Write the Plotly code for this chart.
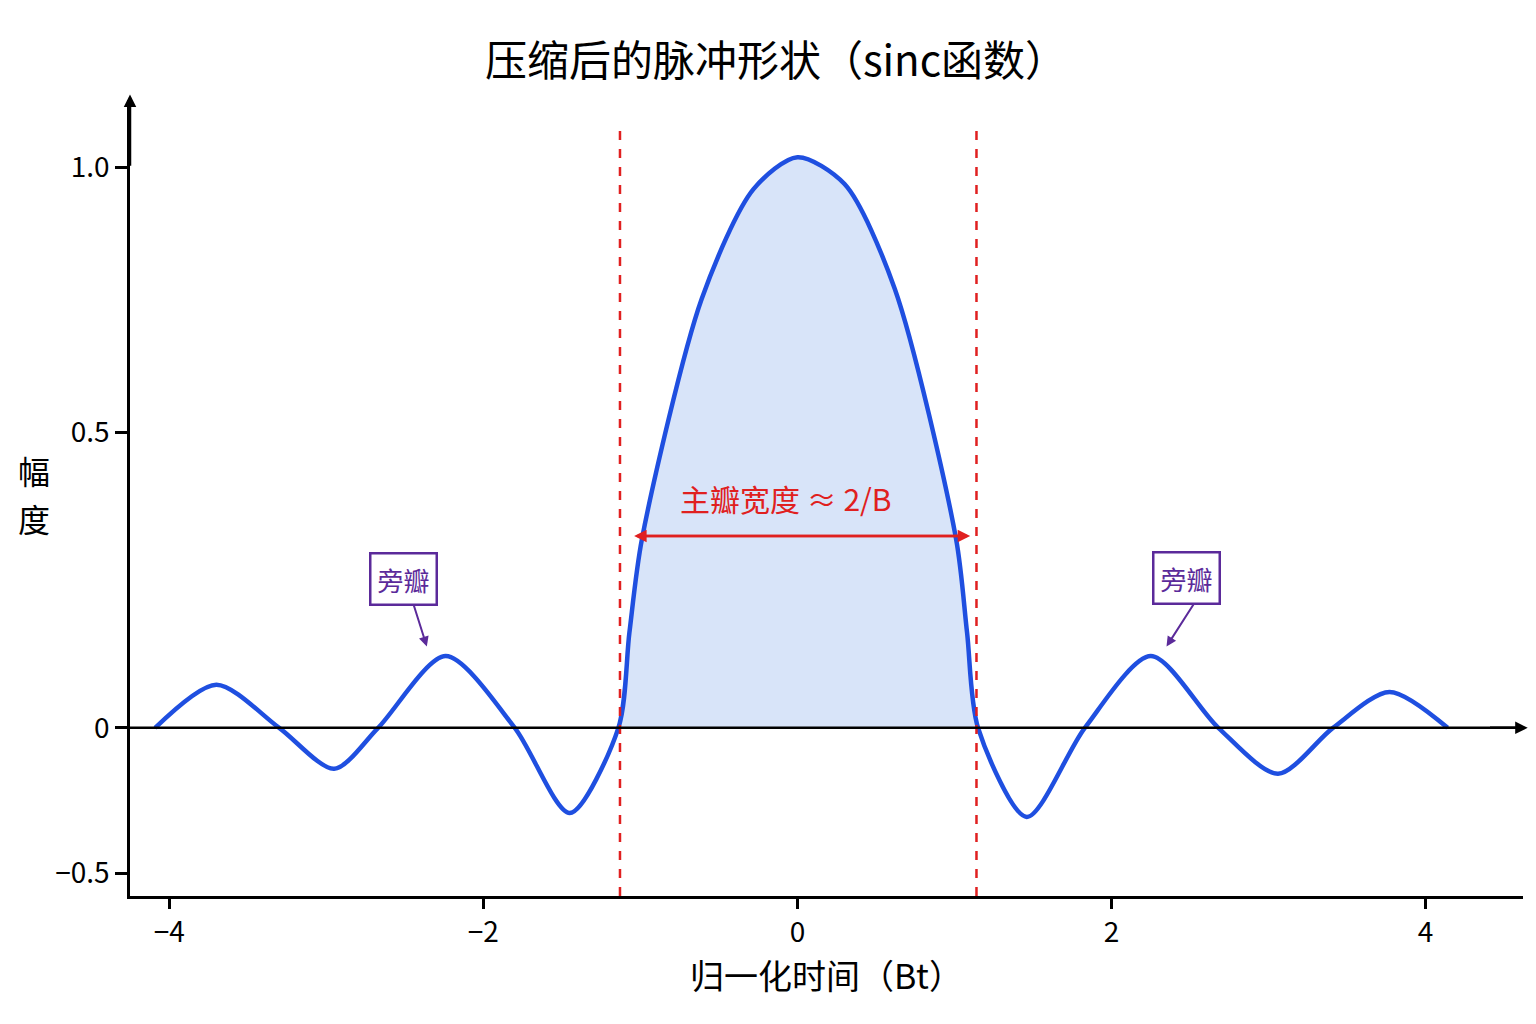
import plotly.graph_objects as go

# curve points
t_vals = [-4.09,-3.70,-3.30,-2.95,-2.67,-2.24,-1.80,-1.45,-1.14,-1.07,-0.99,-0.61,-0.28,0.0,0.30,0.62,1.01,1.08,1.15,1.46,1.83,2.25,2.68,3.06,3.41,3.77,4.14]
amp_vals = [0,0.077,0,-0.073,0,0.128,0,-0.152,0,0.17,0.337,0.765,0.961,1.018,0.970,0.783,0.337,0.17,0,-0.159,0,0.128,0,-0.082,0,0.064,0]
main_t = [-1.14,-1.07,-0.99,-0.61,-0.28,0.0,0.30,0.62,1.01,1.08,1.15]
main_amp = [0,0.17,0.337,0.765,0.961,1.018,0.970,0.783,0.337,0.17,0]
ytick_vals = [-0.26,0,0.527,1.0]
ytick_text = ["−0.5","0","0.5","1.0"]
xtick_vals = [-4,-2,0,2,4]
xtick_text = ["−4","−2","0","2","4"]
bound_l, bound_r = -1.13, 1.14
x_lo = -4.25

F = "Noto Sans CJK SC"
fig = go.Figure()
fig.add_trace(go.Scatter(x=main_t, y=main_amp, mode="lines", line=dict(shape="spline", smoothing=0.8, width=0, color="rgba(0,0,0,0)"),
                         fill="tozeroy", fillcolor="rgba(190,210,245,0.6)", hoverinfo="skip"))
fig.add_trace(go.Scatter(x=t_vals, y=amp_vals, mode="lines", line=dict(shape="spline", smoothing=0.8, width=4.5, color="#1f4fe0")))
for b in (bound_l, bound_r):
    fig.add_shape(type="line", x0=b, x1=b, y0=-0.3, y1=1.07, line=dict(color="#e02020", width=2.5, dash="dash"))
fig.add_shape(type="line", x0=x_lo, x1=4.62, y0=0, y1=0, line=dict(color="black", width=2.5))
fig.add_annotation(x=4.65, y=0, ax=4.4, ay=0, axref="x", ayref="y", text="", showarrow=True, arrowhead=2, arrowwidth=2.5, arrowsize=1, arrowcolor="black")
fig.add_annotation(x=x_lo, y=1.13, ax=x_lo, ay=1.0, axref="x", ayref="y", text="", showarrow=True, arrowhead=2, arrowwidth=2.5, arrowcolor="black")
# main lobe width arrow
fig.add_annotation(x=-1.04, y=0.342, ax=1.08, ay=0.342, axref="x", ayref="y", text="", showarrow=True, arrowhead=2, arrowwidth=2.5, arrowcolor="#e02020")
fig.add_annotation(x=1.1, y=0.342, ax=-1.02, ay=0.342, axref="x", ayref="y", text="", showarrow=True, arrowhead=2, arrowwidth=2.5, arrowcolor="#e02020")
fig.add_annotation(x=-0.07, y=0.41, text="主瓣宽度 ≈ 2/B", showarrow=False, font=dict(family=F, size=30, color="#e02020"))
for (lx, ly, px, py) in [(-2.51, 0.265, -2.36, 0.145), (2.48, 0.268, 2.35, 0.145)]:
    fig.add_annotation(x=px, y=py, ax=lx+0.06, ay=ly-0.04, axref="x", ayref="y", text="", showarrow=True, arrowhead=2, arrowwidth=2, arrowcolor="#5b2a9a")
    fig.add_annotation(x=lx, y=ly, text="旁瓣", showarrow=False, font=dict(family=F, size=26, color="#5b2a9a"),
                       bordercolor="#5b2a9a", borderwidth=2.5, borderpad=6, bgcolor="white")
fig.add_annotation(xref="paper", yref="paper", x=-0.082, y=0.535, text="幅", showarrow=False, font=dict(family=F, size=32, color="black"))
fig.add_annotation(xref="paper", yref="paper", x=-0.082, y=0.475, text="度", showarrow=False, font=dict(family=F, size=32, color="black"))
fig.update_layout(
    width=1536, height=1024, plot_bgcolor="white", paper_bgcolor="white", showlegend=False,
    margin=dict(l=122, r=21, t=92, b=136),
    title=dict(text="压缩后的脉冲形状（sinc函数）", x=0.5, y=0.962, xanchor="center", font=dict(family=F, size=42, color="black")),
    xaxis=dict(range=[x_lo, 4.62], showgrid=False, zeroline=False, showline=True, linecolor="black", linewidth=2.5,
               tickvals=xtick_vals, ticktext=xtick_text, ticks="outside", ticklen=10, tickwidth=2.5, tickcolor="black",
               tickfont=dict(family=F, size=28, color="black"), title=dict(text="归一化时间（Bt）", font=dict(family=F, size=34, color="black"), standoff=8)),
    yaxis=dict(range=[-0.3, 1.12], showgrid=False, zeroline=False, showline=True, linecolor="black", linewidth=2.5,
               tickvals=ytick_vals, ticktext=ytick_text, ticks="outside", ticklen=12, tickwidth=2.5, tickcolor="black",
               tickfont=dict(family=F, size=28, color="black")),
)
fig.write_html("out.html")
